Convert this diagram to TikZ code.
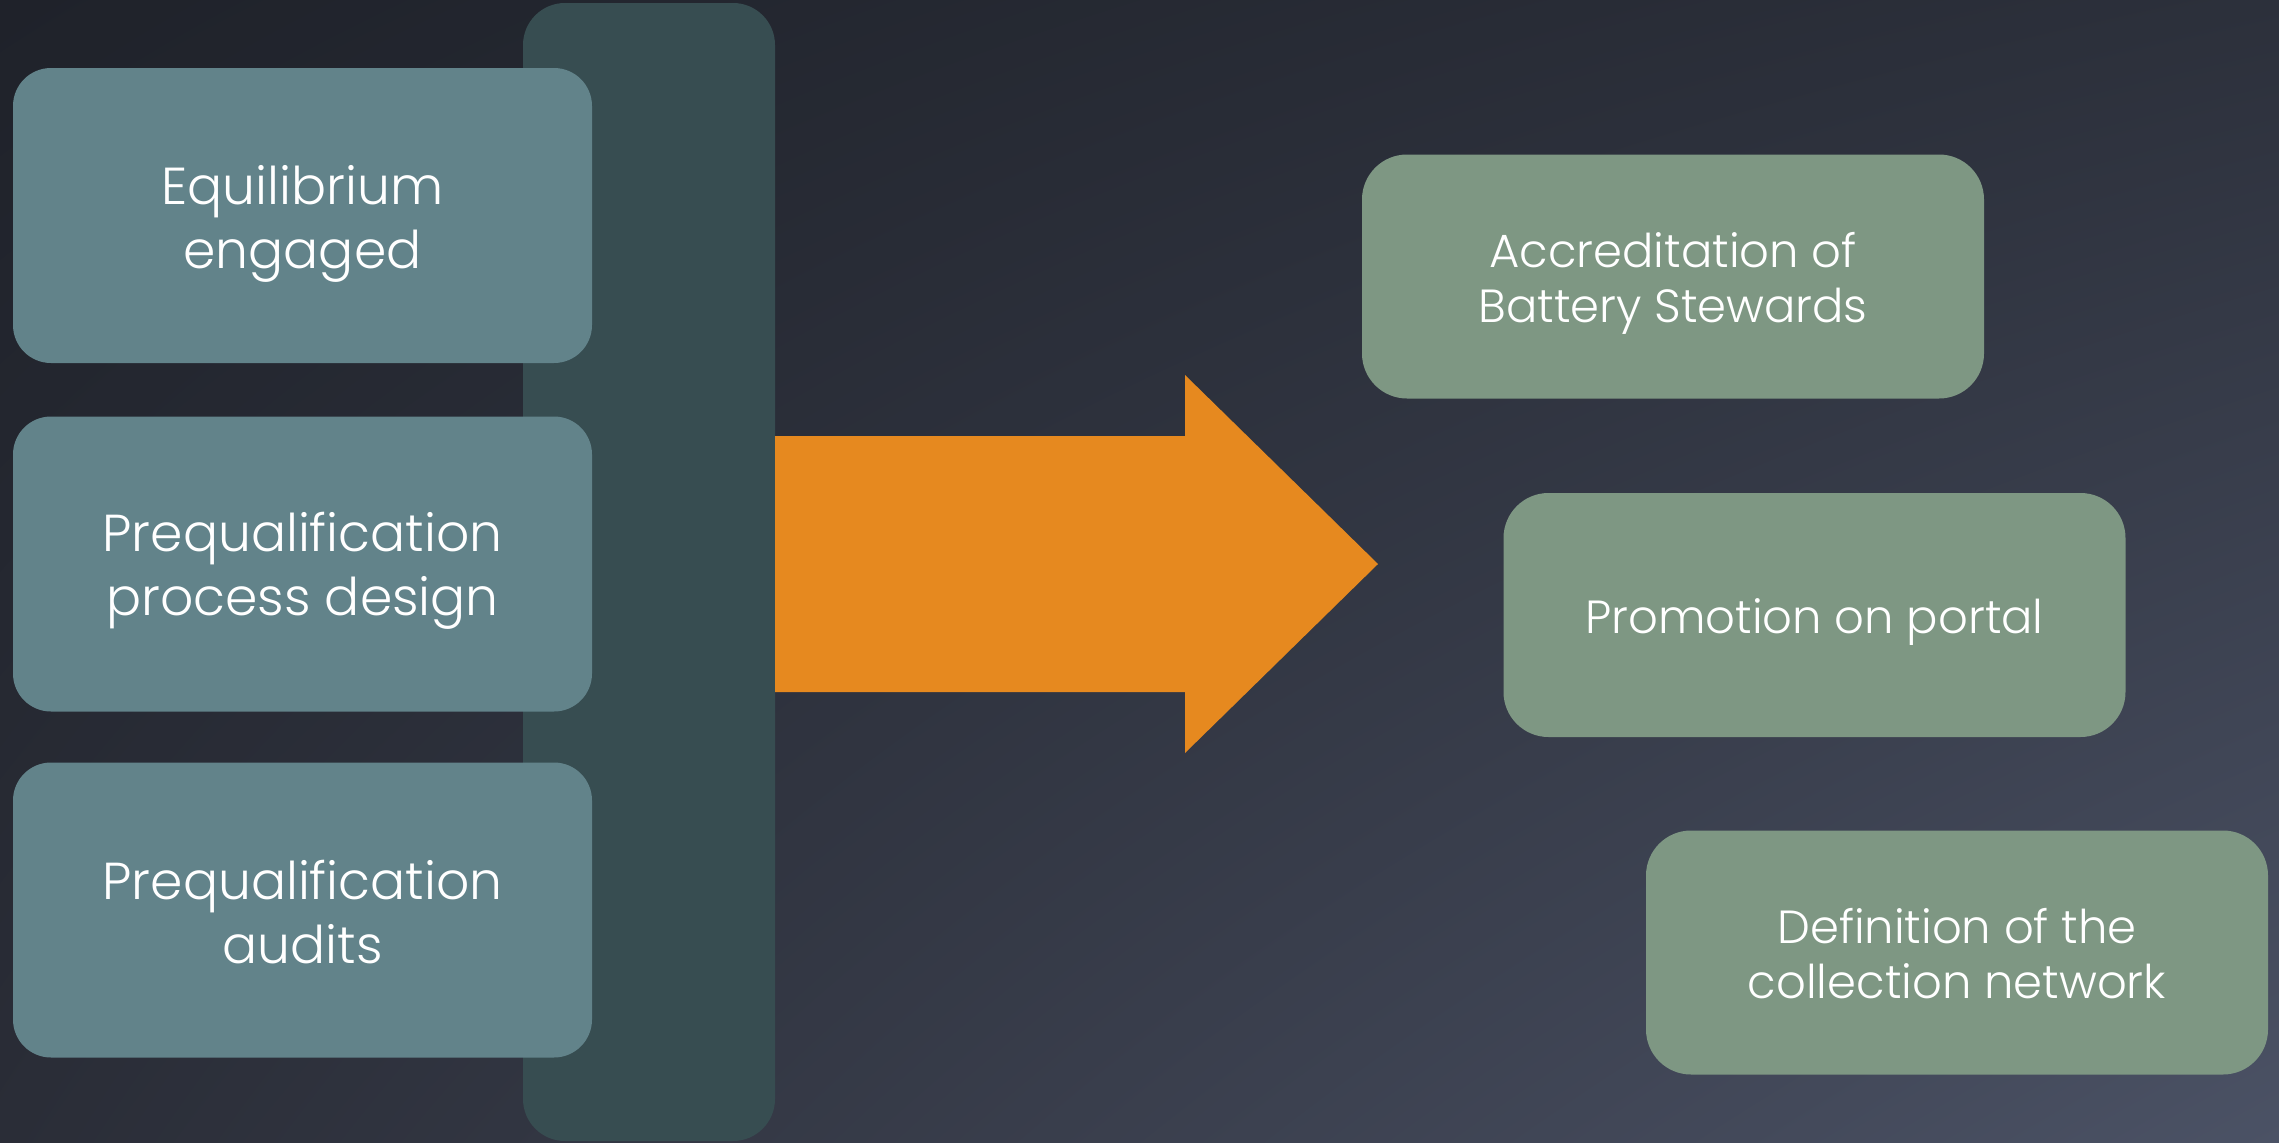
\documentclass[tikz,border=0pt]{standalone}
\usepackage{fontspec}
\setmainfont{Poppins}[UprightFont={* Light}]
\usetikzlibrary{shadings}
\definecolor{bgA}{HTML}{1F222A}
\definecolor{bgB}{HTML}{2C303B}
\definecolor{bgC}{HTML}{2A2D37}
\definecolor{bgD}{HTML}{4B5265}
\definecolor{barC}{HTML}{374D51}
\definecolor{leftC}{HTML}{62838A}
\definecolor{rightC}{HTML}{7E9783}
\definecolor{arrowC}{HTML}{E6891F}
\tikzset{
  leftbox/.style={rectangle, fill=leftC, rounded corners=38pt, minimum width=579pt, minimum height=295pt, inner sep=0pt},
  rightbox/.style={rectangle, fill=rightC, rounded corners=45pt, minimum width=622pt, minimum height=244pt, inner sep=0pt},
  lefttext/.style={text=white, align=center, font=\fontsize{52}{64}\selectfont, inner sep=0pt},
  righttext/.style={text=white, align=center, font=\fontsize{46.5}{55}\selectfont, inner sep=0pt}
}
\begin{document}
\begin{tikzpicture}[x=1pt,y=-1pt]
\useasboundingbox (0,0) rectangle (2279,1143);
\shade[upper left=bgA, upper right=bgB, lower left=bgC, lower right=bgD] (0,0) rectangle (2279,1143);
% vertical bar
\fill[barC, rounded corners=42pt] (523,3) rectangle (775,1141);
% left boxes
\node[leftbox] (b1) at (302.5,215.5) {};
\node[leftbox] (b2) at (302.5,564) {};
\node[leftbox] (b3) at (302.5,910) {};
\node[lefttext] (t1) at ([yshift=-8pt]b1.center) {Equilibrium\\engaged};
\node[lefttext] (t2) at ([yshift=-7pt]b2.center) {Prequalification\\process design};
\node[lefttext] (t3) at ([yshift=-2pt]b3.center) {Prequalification\\audits};
% arrow
\fill[arrowC] (775,436) -- (1185,436) -- (1185,375) -- (1378,564) -- (1185,753) -- (1185,692) -- (775,692) -- cycle;
% right boxes
\node[rightbox] (r1) at (1673,276.5) {};
\node[rightbox] (r2) at (1814.5,615) {};
\node[rightbox] (r3) at (1957,952.5) {};
\node[righttext] (s1) at ([yshift=-7pt]r1.center) {Accreditation of\\Battery Stewards};
\node[righttext] (s2) at ([yshift=-7pt]r2.center) {Promotion on portal};
\node[righttext] (s3) at ([yshift=-1pt]r3.center) {Definition of the\\collection network};
\end{tikzpicture}
\end{document}
